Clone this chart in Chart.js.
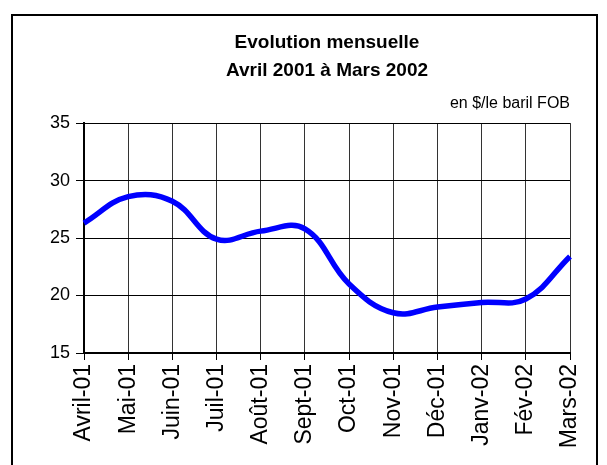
<!DOCTYPE html>
<html>
<head>
<meta charset="utf-8">
<script src="https://cdn.jsdelivr.net/npm/chart.js@4/dist/chart.umd.min.js"></script>
<style>
  html, body { margin: 0; padding: 0; background: #fff; }
  #wrap { position: relative; width: 607px; height: 465px; }
</style>
</head>
<body>
<div id="wrap"><canvas id="myChart" width="607" height="465"></canvas></div>
<script>
// data
var months = ['Avril-01', 'Mai-01', 'Juin-01', 'Juil-01', 'Août-01', 'Sept-01',
  'Oct-01', 'Nov-01', 'Déc-01', 'Janv-02', 'Fév-02', 'Mars-02'];
var prices = [26.3, 28.6, 28.2, 24.9, 25.6, 25.8, 21.0, 18.5, 19.0, 19.4, 19.7, 23.4];
var titleLines = ['Evolution mensuelle', 'Avril 2001 à Mars 2002'];
var unitLabel = 'en $/le baril FOB';
var yMin = 15, yMax = 35, yStep = 5;

Chart.defaults.font.family = 'Arial, "Liberation Sans", sans-serif';
Chart.defaults.color = '#000';

// outer frame around the whole chart
var framePlugin = {
  id: 'frame',
  afterDraw: function (chart) {
    var ctx = chart.ctx;
    ctx.save();
    ctx.strokeStyle = '#000';
    ctx.lineWidth = 2;
    ctx.strokeRect(12, 15, 585, 470);
    ctx.restore();
  }
};

var chart = new Chart(document.getElementById('myChart'), {
  type: 'line',
  data: {
    labels: months,
    datasets: [{
      data: prices,
      borderColor: '#0000ff',
      borderWidth: 5.5,
      pointRadius: 0,
      tension: 0.4,
      fill: false
    }]
  },
  options: {
    responsive: false,
    animation: false,
    layout: { padding: { left: 0, right: 37, top: 0, bottom: 0 } },
    plugins: {
      legend: { display: false },
      tooltip: { enabled: false },
      title: {
        display: true,
        fullSize: false,
        text: titleLines,
        font: { size: 19, weight: 'bold', lineHeight: 1.47 },
        padding: { top: 29, bottom: 9 }
      },
      subtitle: {
        display: true,
        fullSize: false,
        text: unitLabel,
        align: 'end',
        font: { size: 16, lineHeight: 1.2 },
        padding: { top: 0, bottom: 10 }
      }
    },
    scales: {
      x: {
        grid: { color: '#333', lineWidth: 1, tickLength: 7, tickColor: '#000' },
        border: { color: '#000', width: 2 },
        ticks: { font: { size: 23 }, maxRotation: 90, minRotation: 90, padding: 4, autoSkip: false },
        afterFit: function (scale) { scale.height = 112; }
      },
      y: {
        min: yMin,
        max: yMax,
        grid: { color: '#000', lineWidth: 1, tickLength: 8, tickColor: '#000' },
        border: { color: '#000', width: 2 },
        ticks: { stepSize: yStep, font: { size: 18 }, padding: 6 },
        afterFit: function (scale) { scale.width = 84; }
      }
    }
  },
  plugins: [framePlugin]
});
</script>
</body>
</html>
